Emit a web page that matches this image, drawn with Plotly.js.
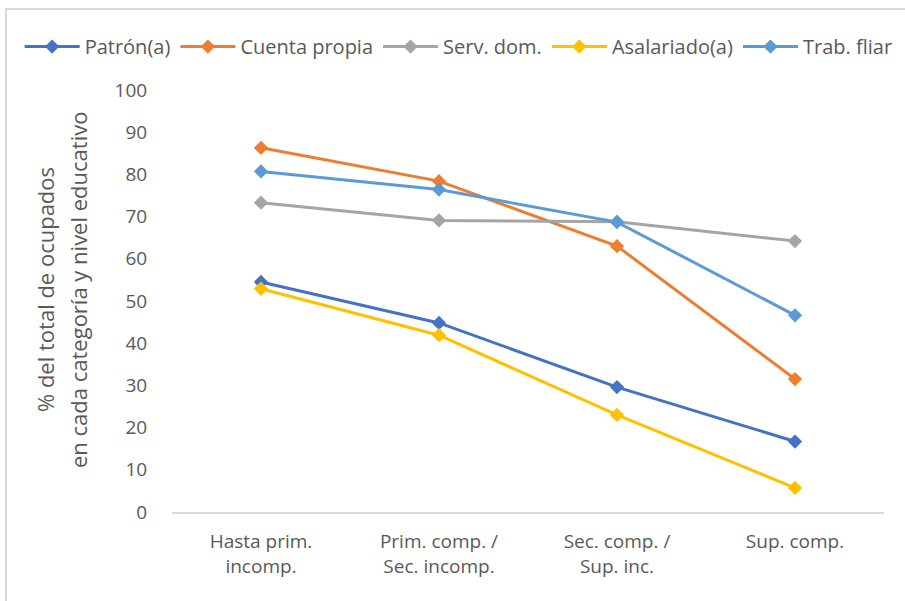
<!DOCTYPE html>
<html>
<head>
<meta charset="utf-8">
<script src="https://cdn.plot.ly/plotly-3.0.1.min.js"></script>
<style>
  html, body { margin: 0; padding: 0; background: #fff; }
  #frame { position: absolute; left: 5px; top: 8px; width: 1200px; height: 1000px; border: 2px solid #d9d9d9; box-sizing: border-box; }
  #chart { position: absolute; left: 0; top: 0; width: 905px; height: 601px; }
</style>
</head>
<body>
<div id="frame"></div>
<div id="chart"></div>
<script>
const categories = ["Hasta prim.<br>incomp.", "Prim. comp. /<br>Sec. incomp.", "Sec. comp. /<br>Sup. inc.", "Sup. comp."];
const seriesNames = ["Patrón(a)", "Cuenta propia", "Serv. dom.", "Asalariado(a)", "Trab. fliar"];
const patron = [54.5, 44.8, 29.6, 16.7];
const cuentaPropia = [86.3, 78.4, 63.0, 31.5];
const servDom = [73.3, 69.1, 68.8, 64.2];
const asalariado = [52.9, 41.9, 23.0, 5.7];
const trabFliar = [80.7, 76.4, 68.7, 46.6];
const colors = ["#4472C4", "#ED7D31", "#A5A5A5", "#FFC000", "#5B9BD5"];
const yTicks = [0, 10, 20, 30, 40, 50, 60, 70, 80, 90, 100];
const yTitleLines = ["% del total de ocupados", "en cada categoría y nivel educativo"];

const FONT = "'Open Sans', 'Noto Sans', sans-serif";
const values = [patron, cuentaPropia, servDom, asalariado, trabFliar];
const traces = values.map((v, i) => ({
  type: "scatter",
  mode: "lines+markers",
  name: seriesNames[i],
  x: categories,
  y: v,
  line: { color: colors[i], width: 3 },
  marker: { symbol: "diamond", size: 11, color: colors[i] }
}));

const layout = {
  width: 905, height: 601,
  margin: { l: 172, r: 21, t: 90, b: 89 },
  paper_bgcolor: "rgba(0,0,0,0)",
  plot_bgcolor: "rgba(0,0,0,0)",
  font: { family: FONT, size: 19, color: "#595959" },
  showlegend: true,
  legend: {
    orientation: "h", x: -0.214, xanchor: "left", y: 1.103, yanchor: "middle",
    font: { family: FONT, size: 20, color: "#595959" },
    itemwidth: 55, traceorder: "normal"
  },
  xaxis: {
    type: "category",
    showgrid: false, zeroline: false,
    showline: true, linecolor: "#d9d9d9", linewidth: 1.5,
    ticks: "outside", ticklen: 12, tickcolor: "rgba(0,0,0,0)",
    tickfont: { family: FONT, size: 19, color: "#595959" },
    range: [-0.5, 3.5], fixedrange: true
  },
  yaxis: {
    range: [0, 100],
    tickvals: yTicks,
    showgrid: false, zeroline: false, showline: false,
    ticks: "outside", ticklen: 20, tickcolor: "rgba(0,0,0,0)",
    tickfont: { family: FONT, size: 19, color: "#595959" }
  },
  annotations: yTitleLines.map((t, i) => ({
    text: t, xref: "paper", yref: "paper",
    x: ((i === 0 ? 45 : 78) - 172) / 712, y: (512 - 290) / 422,
    xanchor: "center", yanchor: "middle", textangle: -90, showarrow: false,
    font: { family: FONT, size: 22, color: "#595959" }
  }))
};

Plotly.newPlot("chart", traces, layout, { displayModeBar: false, staticPlot: true });
</script>
</body>
</html>
